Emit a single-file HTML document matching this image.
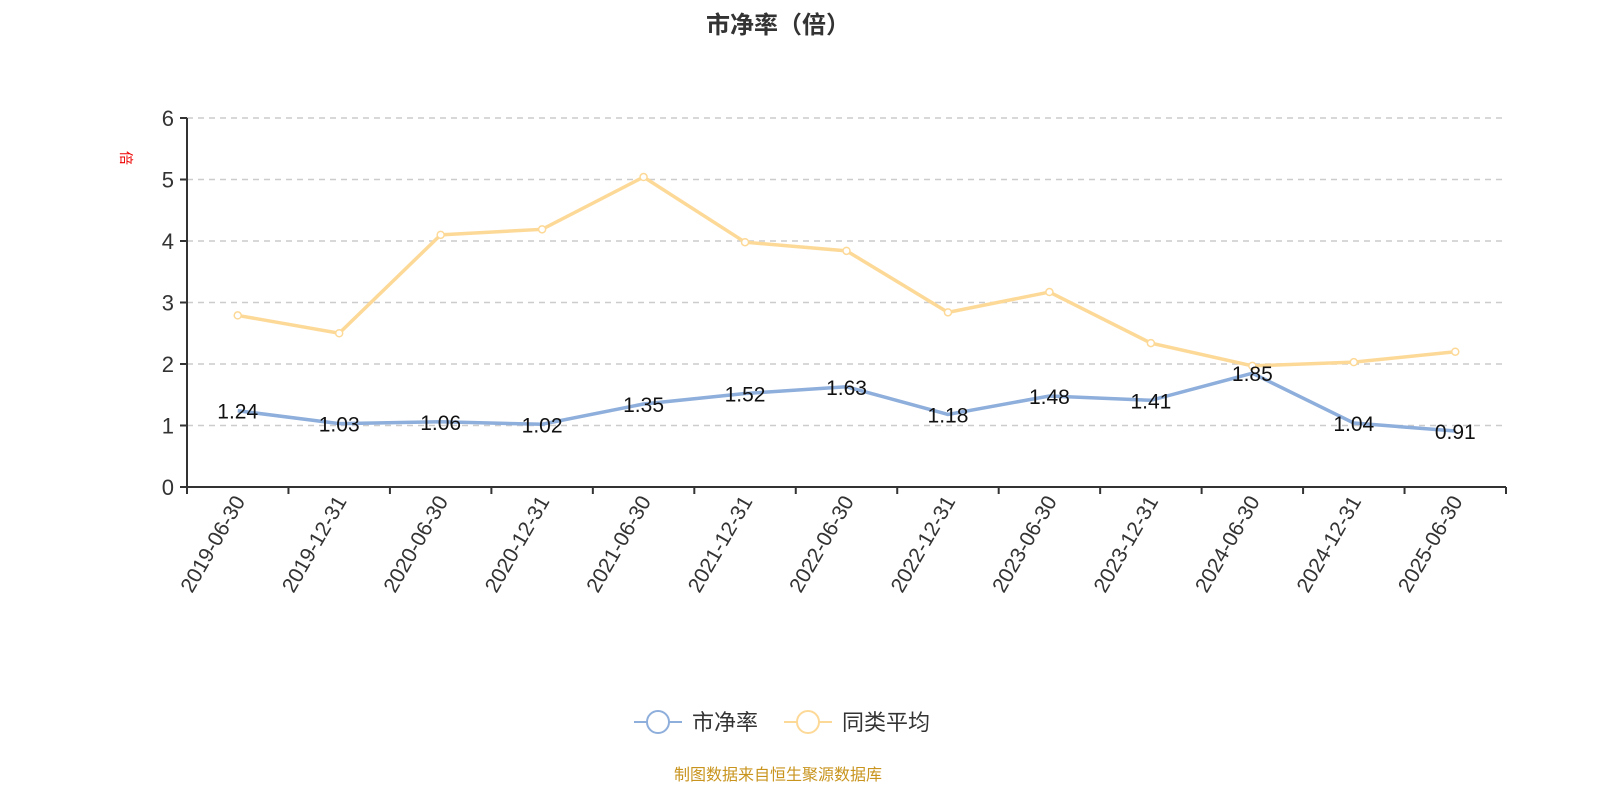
<!DOCTYPE html>
<html><head><meta charset="utf-8"><style>
body{margin:0;background:#fff;}
svg text{font-family:"Liberation Sans","Noto Sans CJK SC",sans-serif;}
</style></head><body>
<svg width="1600" height="800" xmlns="http://www.w3.org/2000/svg" id="chart">
<text x="778" y="33" text-anchor="middle" font-size="24" font-weight="bold" fill="#333">市净率（倍）</text>
<text x="0" y="0" transform="translate(121,158) rotate(90)" text-anchor="middle" font-size="14" fill="#e00">倍</text>
<g id="grid"></g><g id="axes"></g><g id="series"></g>
<g>
<g><line x1="634" y1="722" x2="682" y2="722" stroke="#8eaedb" stroke-width="2"/><circle cx="658" cy="722" r="11" fill="#fff" stroke="#8eaedb" stroke-width="2"/><text x="692" y="730" font-size="22" fill="#333">市净率</text></g>
<g><line x1="784" y1="722" x2="832" y2="722" stroke="#fdd998" stroke-width="2"/><circle cx="808" cy="722" r="11" fill="#fff" stroke="#fdd998" stroke-width="2"/><text x="842" y="730" font-size="22" fill="#333">同类平均</text></g>
</g>
<text x="778" y="780" text-anchor="middle" font-size="16" fill="#c8941e">制图数据来自恒生聚源数据库</text>
</svg>
<script>
const categories=["2019-06-30","2019-12-31","2020-06-30","2020-12-31","2021-06-30","2021-12-31","2022-06-30","2022-12-31","2023-06-30","2023-12-31","2024-06-30","2024-12-31","2025-06-30"];
const pbValues=[1.24,1.03,1.06,1.02,1.35,1.52,1.63,1.18,1.48,1.41,1.85,1.04,0.91];
const avgValues=[2.79,2.5,4.1,4.19,5.04,3.98,3.84,2.84,3.17,2.34,1.97,2.03,2.2];
const yTicks=[0,1,2,3,4,5,6];
const NS="http://www.w3.org/2000/svg";
const L=187,R=1506,T=118,B=487,yMax=6;
const bw=(R-L)/categories.length;
const x=i=>L+bw*(i+0.5);
const y=v=>B-(v/yMax)*(B-T);
function mk(tag,attrs,parent){const e=document.createElementNS(NS,tag);for(const k in attrs)e.setAttribute(k,attrs[k]);parent.appendChild(e);return e;}
const grid=document.getElementById('grid'),axes=document.getElementById('axes'),series=document.getElementById('series');
yTicks.forEach(t=>{
 if(t>0){const g=mk('line',{x1:L,x2:R,y1:y(t),y2:y(t),stroke:'#ccc','stroke-dasharray':'6,5','stroke-width':1.5},grid);
 
 }
 const tk=mk('line',{x1:L-7,x2:L,y1:y(t),y2:y(t),stroke:'#333','stroke-width':2},axes);
 
 
 const tl=mk('text',{x:L-13,y:y(t)+8,'text-anchor':'end','font-size':22,fill:'#333'},axes);tl.textContent=t;
 
 
});
const ya=mk('line',{x1:L,x2:L,y1:T,y2:B,stroke:'#333','stroke-width':2},axes);


const xa=mk('line',{x1:L,x2:R,y1:B,y2:B,stroke:'#333','stroke-width':2},axes);


for(let i=0;i<=categories.length;i++){
 const tk=mk('line',{x1:L+bw*i,x2:L+bw*i,y1:B,y2:B+7,stroke:'#333','stroke-width':2},axes);
 
 
}
categories.forEach((c,i)=>{
 const t=mk('text',{transform:`translate(${x(i)+8},${B+14}) rotate(-60)`,'text-anchor':'end','font-size':21,fill:'#333'},axes);t.textContent=c;
 
 
});
function drawSeries(vals,color,name,labels){
 const p=mk('polyline',{points:vals.map((v,i)=>x(i)+','+y(v)).join(' '),fill:'none',stroke:color,'stroke-width':3.5},series);
 
 
 vals.forEach((v,i)=>{
  if(!labels){const c=mk('circle',{cx:x(i),cy:y(v),r:3.5,fill:'#fff',stroke:color,'stroke-width':1.5},series);
  
  }
  else{const t=mk('text',{x:x(i),y:y(v)+8,'text-anchor':'middle','font-size':21,fill:'#111'},series);t.textContent=v.toFixed(2);
  
  }
 });
}
drawSeries(avgValues,'#fdd998','peer-average',false);
drawSeries(pbValues,'#8eaedb','pb-ratio',true);
</script>
</body></html>
